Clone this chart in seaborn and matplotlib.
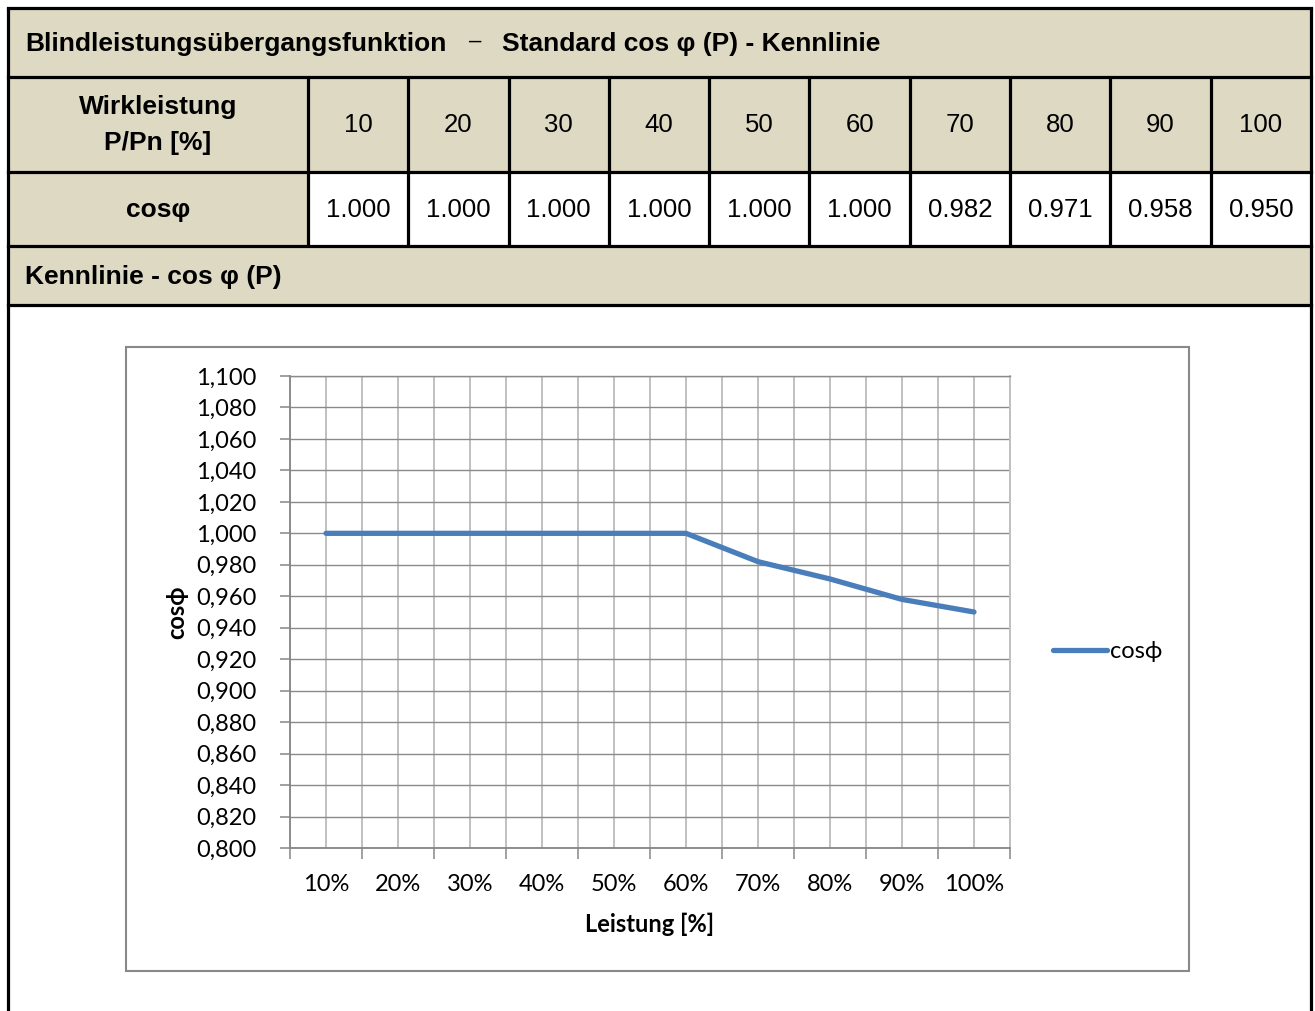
import numpy as np
import pandas as pd
import matplotlib
matplotlib.use("Agg")
import matplotlib.pyplot as plt
import seaborn as sns
from matplotlib.patches import Rectangle

# data
leistung = [10, 20, 30, 40, 50, 60, 70, 80, 90, 100]
cos_phi = [1.000, 1.000, 1.000, 1.000, 1.000, 1.000, 0.982, 0.971, 0.958, 0.950]
x_labels = [f"{v}%" for v in leistung]
y_ticks = np.round(np.arange(0.80, 1.1001, 0.02), 3)

title_a = "Blindleistungsübergangsfunktion"
title_b = "Standard cos \u03c6 (P) - Kennlinie"
row_head = ["Wirkleistung\nP/Pn [%]", "cos\u03c6"]
sub_title = "Kennlinie - cos \u03c6 (P)"

sns.set_style("white")
plt.rcParams.update({"text.color": "black", "axes.labelcolor": "black",
                     "xtick.color": "black", "ytick.color": "black"})
W, H = 1315, 1011
fig = plt.figure(figsize=(W / 100, H / 100), dpi=100)

beige = "#DDD9C3"
tfont = ["Liberation Sans", "DejaVu Sans"]
cfont = ["Lato", "DejaVu Sans"]

# --- table drawn in pixel space ---
bg = fig.add_axes([0, 0, 1, 1], zorder=0)
bg.set_xlim(0, W)
bg.set_ylim(H, 0)
bg.axis("off")

L, R = 8, 1311
rows = [8, 77, 172, 246, 305]
col0 = 308
cw = (R - col0) / len(leistung)
cols = [col0 + i * cw for i in range(len(leistung) + 1)]

bg.add_patch(Rectangle((L, rows[0]), R - L, rows[4] - rows[0], color=beige, lw=0))
bg.add_patch(Rectangle((col0, rows[2]), R - col0, rows[3] - rows[2], color="white", lw=0))

lw_b = 2.3
for y in rows:
    bg.plot([L, R], [y, y], color="black", lw=lw_b, solid_capstyle="projecting")
bg.plot([L, L], [rows[0], H], color="black", lw=lw_b)
bg.plot([R, R], [rows[0], H], color="black", lw=lw_b)
for x in cols[:-1]:
    bg.plot([x, x], [rows[1], rows[3]], color="black", lw=lw_b)

fs = 19
bg.text(25, 44, title_a, fontsize=fs, fontweight="bold", family=tfont, va="center", ha="left")
bg.text(475, 41, "\u2013", fontsize=fs - 3, family=tfont, va="center", ha="center")
bg.text(502, 44, title_b, fontsize=fs, fontweight="bold", family=tfont, va="center", ha="left")
bg.text(25, 277, sub_title, fontsize=fs, fontweight="bold", family=tfont, va="center", ha="left")
bg.text((L + col0) / 2, 125, row_head[0], fontsize=fs, fontweight="bold", family=tfont,
        va="center", ha="center", linespacing=1.65)
bg.text((L + col0) / 2, 210, row_head[1], fontsize=fs, fontweight="bold", family=tfont,
        va="center", ha="center")
for i, (p, c) in enumerate(zip(leistung, cos_phi)):
    cx = (cols[i] + cols[i + 1]) / 2
    bg.text(cx, 125, str(p), fontsize=fs - 0.5, family=tfont, va="center", ha="center")
    bg.text(cx, 210, f"{c:.3f}", fontsize=fs - 0.5, family=tfont, va="center", ha="center")

# chart frame
bg.add_patch(Rectangle((126, 347), 1189 - 126, 971 - 347, fill=False, ec="#898989", lw=1.5))

# --- chart ---
px0, px1, py0, py1 = 290, 1010, 376, 848
ax = fig.add_axes([px0 / W, 1 - py1 / H, (px1 - px0) / W, (py1 - py0) / H], zorder=1)
ax.patch.set_alpha(0)

df = pd.DataFrame({"pos": np.arange(len(leistung)), "cos": cos_phi})
sns.lineplot(data=df, x="pos", y="cos", ax=ax, color="#4A7EBB", lw=3.8,
             label="cos\u03d5", solid_capstyle="round")

ax.set_xlim(-0.5, len(leistung) - 0.5)
ax.set_ylim(0.80, 1.10)

cfs = 17
ax.set_xticks(np.arange(-0.5, len(leistung), 1))
ax.set_xticklabels([])
ax.set_xticks(np.arange(len(leistung)), minor=True)
ax.set_xticklabels(x_labels, minor=True, fontsize=cfs, family=cfont)
ax.tick_params(axis="x", which="major", length=8, width=1.1, color="#868686", direction="out", bottom=True)
ax.tick_params(axis="x", which="minor", length=0, pad=19)

ax.set_yticks(y_ticks)
ax.set_yticklabels([f"{v:.3f}".replace(".", ",") for v in y_ticks], fontsize=cfs, family=cfont)
ax.tick_params(axis="y", length=7, width=1.1, color="#868686", direction="out", left=True, pad=17)

ax.grid(axis="y", color="#8A8A8A", lw=1.0)
ax.grid(axis="x", which="both", color="#C0C0C0", lw=1.4)
ax.set_axisbelow(True)

for s in ["left", "bottom"]:
    ax.spines[s].set_color("#868686")
    ax.spines[s].set_linewidth(1.3)
ax.spines["top"].set_color("#8A8A8A")
ax.spines["top"].set_linewidth(1.0)
ax.spines["right"].set_color("#C0C0C0")
ax.spines["right"].set_linewidth(1.4)

ax.set_xlabel("Leistung [%]", fontsize=cfs, fontweight="bold", family=cfont)
ax.xaxis.set_label_coords(0.5, -(924 - py1) / (py1 - py0))
ax.xaxis.label.set_va("center")
ax.set_ylabel("cos\u03d5", fontsize=cfs, fontweight="bold", family=cfont)
ax.yaxis.set_label_coords(-(px0 - 177) / (px1 - px0), 0.5)
ax.yaxis.label.set_va("center")

ax.legend(loc="center left", bbox_to_anchor=(1053 / W, 1 - 652 / H), bbox_transform=fig.transFigure,
          frameon=False, handlelength=2.3, handletextpad=0.1, borderpad=0, borderaxespad=0,
          prop={"family": cfont, "size": cfs})

fig.savefig("out.png", dpi=100)
